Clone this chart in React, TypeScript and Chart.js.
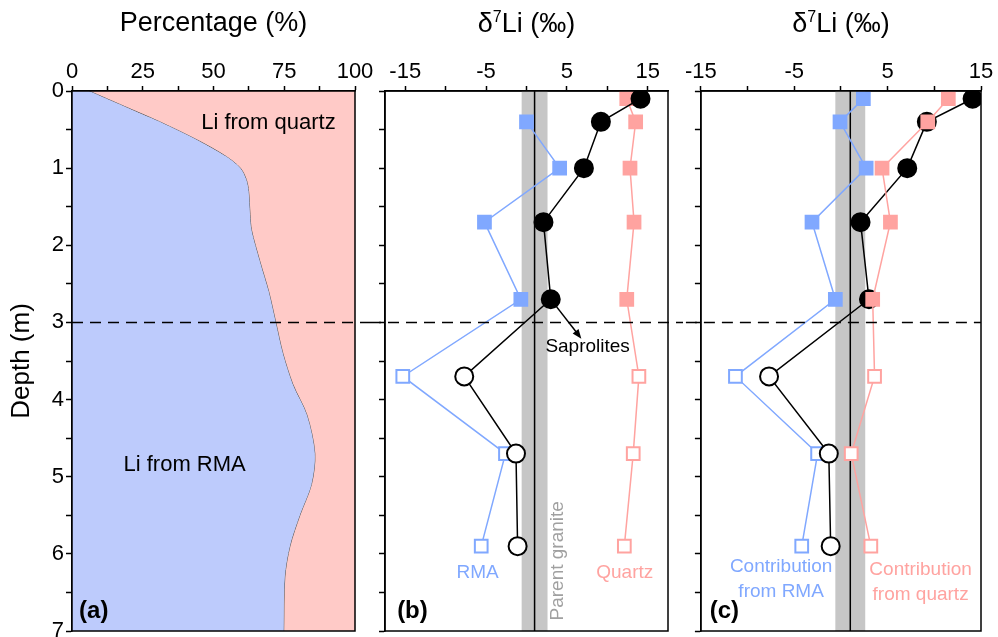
import React, { useEffect, useRef } from 'react';
import { Chart, registerables } from 'chart.js';

Chart.register(...registerables);

const FONT = "'Liberation Sans', Arial, sans-serif";

// Sampled horizons of the weathering profile (m)
const sampleDepths = [0.1, 0.4, 1.0, 1.7, 2.7, 3.7, 4.7, 5.9];
// Saprolites lie above this depth; deeper samples are drawn as open marks
const saproliteBase = 3;

// δ7Li (‰) of bulk samples and their fractions
const bulkD7Li = [14.1, 9.2, 7.1, 2.1, 3.0, -7.7, -1.3, -1.1];
const rmaD7Li = [null, 0.0, 4.1, -5.2, -0.7, -15.3, -2.6, -5.6];
const quartzD7Li = [12.4, 13.5, 12.8, 13.3, 12.4, 13.9, 13.2, 12.1];
// Mass-weighted contributions to bulk δ7Li (‰)
const rmaContribution = [2.4, -0.1, 2.7, -3.1, -0.6, -11.3, -2.5, -4.2];
const quartzContribution = [11.5, 9.3, 4.4, 5.3, 3.4, 3.6, 1.1, 3.2];

// Parent granite δ7Li (‰) and its range
const graniteD7Li = 1.0;
const graniteLow = -0.6;
const graniteHigh = 2.6;

// Share of Li hosted by RMA along the profile (%), the rest is in quartz
const profileDepths = [0, 0.2, 0.4, 0.65, 0.85, 1.0, 1.15, 1.3, 1.6, 1.8, 2.2, 2.6, 3.0, 3.4, 3.8, 4.2, 4.7, 5.1, 5.5, 5.9, 6.3, 7.0];
const rmaSharePct = [6, 18.5, 31, 45, 54.5, 59.5, 61.6, 62.4, 62.9, 63.4, 66.3, 69.5, 72, 74.5, 78, 83, 85.8, 84.6, 80.5, 77, 75.2, 74.8];

// Axis ticks and which of them carry labels
const pctTicks = [0, 12.5, 25, 37.5, 50, 62.5, 75, 87.5, 100];
const pctLabels = [0, 25, 50, 75, 100];
const deltaTicks = [-15, -10, -5, 0, 5, 10, 15];
const deltaLabels = [-15, -5, 5, 15];
const depthTicks = [0, 0.5, 1, 1.5, 2, 2.5, 3, 3.5, 4, 4.5, 5, 5.5, 6, 6.5, 7];
const depthLabels = [0, 1, 2, 3, 4, 5, 6, 7];

const INK = '#000000';
const RMA_COLOR = '#80a8ff';
const QTZ_COLOR = '#ffa3a0';
const RMA_FILL = '#bdcbfc';
const QTZ_FILL = '#ffcac7';
const BAND = '#c6c6c6';
const GRANITE_TEXT = '#a0a0a0';

function topAxis(min: number, max: number, tickValues: number[], labelValues: number[], title: string | null) {
  return {
    type: 'linear',
    position: 'top',
    min,
    max,
    afterBuildTicks: (scale: any) => {
      scale.ticks = tickValues.map((value) => ({ value }));
    },
    afterFit: (scale: any) => {
      scale.height = 91;
    },
    ticks: {
      autoSkip: false,
      maxRotation: 0,
      padding: 1,
      color: INK,
      font: { family: FONT, size: 22 },
      callback: (value: number) => (labelValues.includes(value) ? String(value) : ''),
    },
    grid: { drawOnChartArea: false, drawTicks: true, tickLength: 5, tickWidth: 1.5, tickColor: INK, color: INK },
    border: { display: true, color: INK, width: 1.5 },
    title: {
      display: !!title,
      text: title || '',
      color: INK,
      font: { family: FONT, size: 27 },
      padding: { top: 7, bottom: 0 },
    },
  };
}

function depthAxis(width: number, withLabels: boolean) {
  return {
    type: 'linear',
    position: 'left',
    reverse: true,
    min: 0,
    max: 7,
    afterBuildTicks: (scale: any) => {
      scale.ticks = depthTicks.map((value) => ({ value }));
    },
    afterFit: (scale: any) => {
      scale.width = width;
    },
    ticks: {
      display: withLabels,
      autoSkip: false,
      padding: 2,
      color: INK,
      font: { family: FONT, size: 22 },
      callback: (value: number) => (depthLabels.includes(value) ? String(value) : ''),
    },
    grid: { drawOnChartArea: false, drawTicks: true, tickLength: 6, tickWidth: 1.5, tickColor: INK, color: INK },
    border: { display: true, color: INK, width: 1.5 },
    title: { display: withLabels, text: 'Depth (m)', color: INK, font: { family: FONT, size: 26 }, padding: { top: 6, bottom: 0 } },
  };
}

// Axis title "δ7Li (‰)" with a raised mass number, centred over the plot
const deltaTitle = {
  id: 'deltaTitle',
  afterDraw(chart: any) {
    const { ctx, chartArea: a } = chart;
    const main = `27px ${FONT}`;
    const sup = `16px ${FONT}`;
    const parts = [
      { t: 'δ', f: main, dy: 0 },
      { t: '7', f: sup, dy: -10 },
      { t: 'Li (‰)', f: main, dy: 0 },
    ];
    ctx.save();
    ctx.fillStyle = INK;
    ctx.textBaseline = 'alphabetic';
    ctx.textAlign = 'left';
    let total = 0;
    parts.forEach((p) => {
      ctx.font = p.f;
      total += ctx.measureText(p.t).width;
    });
    let x = (a.left + a.right) / 2 - total / 2;
    const base = 32;
    parts.forEach((p) => {
      ctx.font = p.f;
      ctx.fillText(p.t, x, base + p.dy);
      x += ctx.measureText(p.t).width;
    });
    ctx.restore();
  },
};

// Plot frame plus the dashed saprolite base, which runs across the gaps between panels
function framePlugin(extendLeft: number, extendRight: number) {
  return {
    id: 'frame',
    afterDatasetsDraw(chart: any) {
      const { ctx, chartArea: a, scales } = chart;
      const yb = scales.y.getPixelForValue(saproliteBase);
      ctx.save();
      ctx.strokeStyle = INK;
      ctx.lineWidth = 1.6;
      ctx.setLineDash([11, 7]);
      ctx.beginPath();
      ctx.moveTo(a.left - extendLeft, yb);
      ctx.lineTo(a.right + extendRight, yb);
      ctx.stroke();
      ctx.setLineDash([]);
      ctx.lineWidth = 1.5;
      ctx.strokeRect(a.left, a.top, a.right - a.left, a.bottom - a.top);
      ctx.restore();
    },
  };
}

const graniteBand = {
  id: 'graniteBand',
  beforeDatasetsDraw(chart: any) {
    const { ctx, chartArea: a, scales } = chart;
    const x = scales.x;
    const l = x.getPixelForValue(graniteLow);
    const r = x.getPixelForValue(graniteHigh);
    const m = x.getPixelForValue(graniteD7Li);
    ctx.save();
    ctx.fillStyle = BAND;
    ctx.fillRect(l, a.top, r - l, a.bottom - a.top);
    ctx.strokeStyle = INK;
    ctx.lineWidth = 1.5;
    ctx.beginPath();
    ctx.moveTo(m, a.top);
    ctx.lineTo(m, a.bottom);
    ctx.stroke();
    ctx.restore();
  },
};

type Note = {
  lines: string[];
  x: number;
  y: number;
  size: number;
  color: string;
  weight?: string;
  align?: CanvasTextAlign;
  rotate?: number;
  lineHeight?: number;
};

type Arrow = { fromX: number; fromY: number; toX: number; toY: number };

function notesPlugin(notes: Note[], arrow?: Arrow) {
  return {
    id: 'notes',
    afterDatasetsDraw(chart: any) {
      const { ctx, scales } = chart;
      const { x, y } = scales;
      notes.forEach((n) => {
        ctx.save();
        ctx.translate(x.getPixelForValue(n.x), y.getPixelForValue(n.y));
        if (n.rotate) ctx.rotate(n.rotate);
        ctx.font = `${n.weight || 'normal'} ${n.size}px ${FONT}`;
        ctx.fillStyle = n.color;
        ctx.textAlign = n.align || 'center';
        ctx.textBaseline = 'middle';
        n.lines.forEach((line, k) => ctx.fillText(line, 0, k * (n.lineHeight || n.size * 1.3)));
        ctx.restore();
      });
      if (arrow) {
        const x0 = x.getPixelForValue(arrow.fromX);
        const y0 = y.getPixelForValue(arrow.fromY);
        const x1 = x.getPixelForValue(arrow.toX);
        const y1 = y.getPixelForValue(arrow.toY);
        const ang = Math.atan2(y1 - y0, x1 - x0);
        const sx = x0 + Math.cos(ang) * 8;
        const sy = y0 + Math.sin(ang) * 8;
        const head = 10;
        ctx.save();
        ctx.strokeStyle = INK;
        ctx.fillStyle = INK;
        ctx.lineWidth = 1.5;
        ctx.beginPath();
        ctx.moveTo(sx, sy);
        ctx.lineTo(x1 - Math.cos(ang) * head * 0.8, y1 - Math.sin(ang) * head * 0.8);
        ctx.stroke();
        ctx.beginPath();
        ctx.moveTo(x1, y1);
        ctx.lineTo(x1 - head * Math.cos(ang - 0.38), y1 - head * Math.sin(ang - 0.38));
        ctx.lineTo(x1 - head * Math.cos(ang + 0.38), y1 - head * Math.sin(ang + 0.38));
        ctx.closePath();
        ctx.fill();
        ctx.restore();
      }
    },
  };
}

function series(values: (number | null)[], color: string, style: string, radius: number, order: number) {
  const points = sampleDepths
    .map((d, i) => ({ x: values[i], y: d }))
    .filter((p) => p.x !== null);
  return {
    data: points,
    showLine: true,
    order,
    borderColor: color,
    borderWidth: 1.5,
    pointStyle: style,
    pointRadius: radius,
    pointHoverRadius: radius,
    pointBorderColor: color,
    pointBorderWidth: 2,
    pointBackgroundColor: (ctx: any) => (ctx.raw && ctx.raw.y < saproliteBase ? color : '#ffffff'),
  };
}

const baseOptions = {
  animation: false,
  responsive: false,
  devicePixelRatio: 1,
  events: [],
};

function shareChartConfig() {
  const profile = profileDepths.map((d, i) => ({ x: rmaSharePct[i], y: d }));
  return {
    type: 'line',
    data: {
      datasets: [
        {
          data: profile,
          fill: { value: 0 },
          backgroundColor: RMA_FILL,
          borderColor: 'rgba(0,0,0,0)',
          borderWidth: 0,
          pointRadius: 0,
          tension: 0.3,
        },
        {
          data: profile,
          fill: { value: 100 },
          backgroundColor: QTZ_FILL,
          borderColor: '#555555',
          borderWidth: 1,
          pointRadius: 0,
          tension: 0.3,
        },
      ],
    },
    options: {
      ...baseOptions,
      indexAxis: 'y',
      layout: { padding: { left: 0, right: 25, top: 0, bottom: 29 } },
      plugins: { legend: { display: false }, tooltip: { enabled: false } },
      scales: {
        x: topAxis(0, 100, pctTicks, pctLabels, 'Percentage (%)'),
        y: depthAxis(72, true),
      },
    },
    plugins: [
      framePlugin(0, 15),
      notesPlugin([
        { lines: ['Li from quartz'], x: 69.4, y: 0.415, size: 22, color: INK },
        { lines: ['Li from RMA'], x: 39.8, y: 4.85, size: 22, color: INK },
        { lines: ['(a)'], x: 2.5, y: 6.74, size: 24, color: INK, weight: 'bold', align: 'left' },
      ]),
    ],
  };
}

function deltaChartConfig(
  min: number,
  max: number,
  datasets: any[],
  notes: Note[],
  padLeft: number,
  padRight: number,
  extendRight: number,
  arrow?: Arrow
) {
  return {
    type: 'scatter',
    data: { datasets },
    options: {
      ...baseOptions,
      layout: { padding: { left: padLeft, right: padRight, top: 0, bottom: 29 } },
      plugins: { legend: { display: false }, tooltip: { enabled: false } },
      scales: {
        x: topAxis(min, max, deltaTicks, deltaLabels, null),
        y: depthAxis(5, false),
      },
    },
    plugins: [graniteBand, framePlugin(15, extendRight), notesPlugin(notes, arrow), deltaTitle],
  };
}

export default function App() {
  const refA = useRef<HTMLCanvasElement>(null);
  const refB = useRef<HTMLCanvasElement>(null);
  const refC = useRef<HTMLCanvasElement>(null);

  useEffect(() => {
    const charts: Chart[] = [];
    charts.push(new Chart(refA.current as HTMLCanvasElement, shareChartConfig() as any));

    charts.push(
      new Chart(
        refB.current as HTMLCanvasElement,
        deltaChartConfig(
          -17.5,
          17.5,
          [
            series(bulkD7Li, INK, 'circle', 9, 0),
            series(quartzD7Li, QTZ_COLOR, 'rect', 9, 1),
            series(rmaD7Li, RMA_COLOR, 'rect', 9, 2),
          ],
          [
            { lines: ['Saprolites'], x: 7.56, y: 3.32, size: 19, color: INK },
            { lines: ['RMA'], x: -6.05, y: 6.25, size: 19, color: RMA_COLOR },
            { lines: ['Quartz'], x: 12.15, y: 6.25, size: 19, color: QTZ_COLOR },
            { lines: ['Parent granite'], x: 3.85, y: 6.09, size: 19, color: GRANITE_TEXT, rotate: -Math.PI / 2 },
            { lines: ['(b)'], x: -16.0, y: 6.74, size: 24, color: INK, weight: 'bold', align: 'left' },
          ],
          10,
          16,
          15,
          { fromX: bulkD7Li[4], fromY: sampleDepths[4], toX: 6.78, toY: 3.21 }
        ) as any
      )
    );

    charts.push(
      new Chart(
        refC.current as HTMLCanvasElement,
        deltaChartConfig(
          -15,
          15,
          [
            series(quartzContribution, QTZ_COLOR, 'rect', 9, 0),
            series(bulkD7Li, INK, 'circle', 9, 1),
            series(rmaContribution, RMA_COLOR, 'rect', 9, 2),
          ],
          [
            { lines: ['Contribution', 'from RMA'], x: -6.41, y: 6.17, size: 19, color: RMA_COLOR, lineHeight: 25 },
            { lines: ['Contribution', 'from quartz'], x: 8.53, y: 6.21, size: 19, color: QTZ_COLOR, lineHeight: 25 },
            { lines: ['(c)'], x: -14.05, y: 6.74, size: 24, color: INK, weight: 'bold', align: 'left' },
          ],
          9,
          17,
          0
        ) as any
      )
    );

    return () => charts.forEach((c) => c.destroy());
  }, []);

  return (
    <div style={{ position: 'fixed', left: 0, top: 0, width: 998, height: 637, overflow: 'hidden', background: '#ffffff' }}>
      <canvas ref={refA} width={380} height={660} style={{ position: 'absolute', left: 0, top: 0 }} />
      <canvas ref={refB} width={314} height={660} style={{ position: 'absolute', left: 370, top: 0 }} />
      <canvas ref={refC} width={314} height={660} style={{ position: 'absolute', left: 684, top: 0 }} />
    </div>
  );
}
